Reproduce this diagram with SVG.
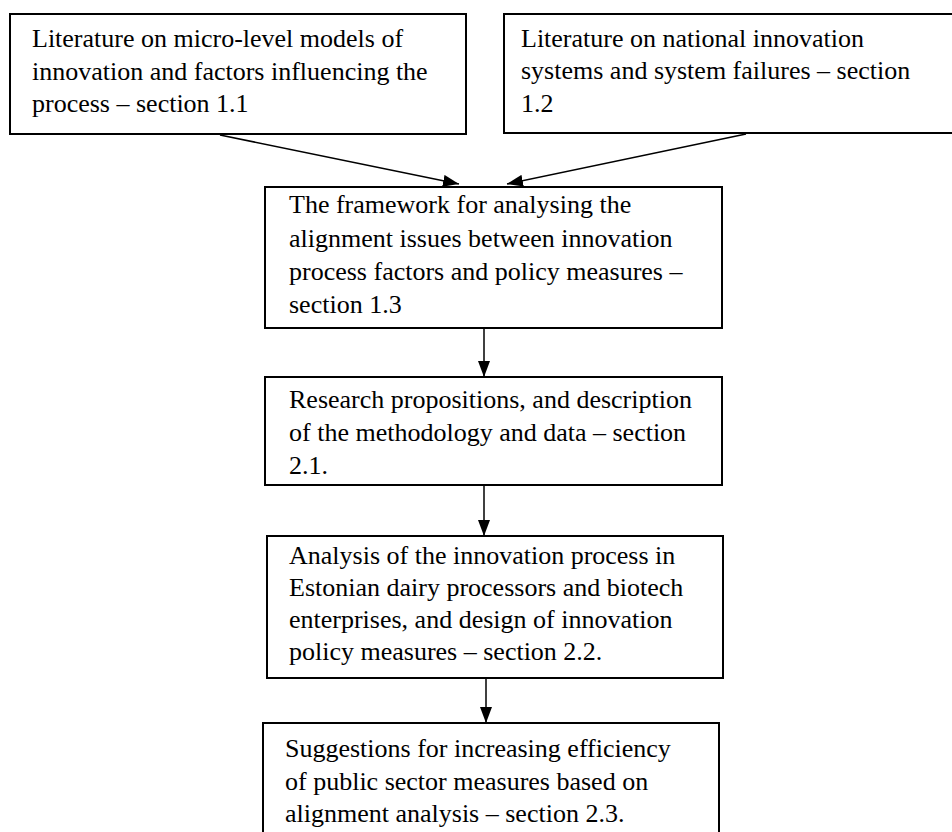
<svg xmlns="http://www.w3.org/2000/svg" width="952" height="832" viewBox="0 0 952 832">
  <style>
    .box { fill: #ffffff; stroke: #000000; stroke-width: 2; }
    .label { font-family: "Times New Roman", "Liberation Serif", Tinos, "DejaVu Serif", serif; font-size: 26px; fill: #000000; }
    .conn { stroke: #000000; stroke-width: 1.5; fill: none; }
  </style>
  <defs>
    <marker id="arrow" viewBox="0 0 16 12" refX="16" refY="6" markerWidth="16" markerHeight="12" markerUnits="userSpaceOnUse" orient="auto">
      <path d="M0,0 L16,6 L0,12 z" fill="#000000"/>
    </marker>
  </defs>
  <rect width="952" height="832" fill="#ffffff"/>

  <g id="connectors">
    <line class="conn" x1="220" y1="135" x2="459" y2="184" marker-end="url(#arrow)"/>
    <line class="conn" x1="746" y1="134" x2="507" y2="184" marker-end="url(#arrow)"/>
    <line class="conn" x1="484" y1="328" x2="484" y2="377" marker-end="url(#arrow)"/>
    <line class="conn" x1="484" y1="486" x2="484" y2="536" marker-end="url(#arrow)"/>
    <line class="conn" x1="486" y1="679" x2="486" y2="723" marker-end="url(#arrow)"/>
  </g>

  <g id="node-micro">
    <rect class="box" x="10" y="14" width="456" height="120"/>
    <text class="label" x="32" y="47">Literature on micro-level models of</text>
    <text class="label" x="32" y="79.5">innovation and factors influencing the</text>
    <text class="label" x="32" y="112">process – section 1.1</text>
  </g>

  <g id="node-nis">
    <rect class="box" x="504" y="14" width="456" height="119"/>
    <text class="label" x="521" y="47">Literature on national innovation</text>
    <text class="label" x="521" y="79">systems and system failures – section</text>
    <text class="label" x="521" y="112">1.2</text>
  </g>

  <g id="node-framework">
    <rect class="box" x="265" y="187" width="457" height="141"/>
    <text class="label" x="289" y="213">The framework for analysing the</text>
    <text class="label" x="289" y="246.5">alignment issues between innovation</text>
    <text class="label" x="289" y="280">process factors and policy measures –</text>
    <text class="label" x="289" y="313">section 1.3</text>
  </g>

  <g id="node-research">
    <rect class="box" x="265" y="377" width="457" height="108"/>
    <text class="label" x="289" y="408">Research propositions, and description</text>
    <text class="label" x="289" y="441">of the methodology and data – section</text>
    <text class="label" x="289" y="474">2.1.</text>
  </g>

  <g id="node-analysis">
    <rect class="box" x="267" y="536" width="456" height="142"/>
    <text class="label" x="289" y="564">Analysis of the innovation process in</text>
    <text class="label" x="289" y="596">Estonian dairy processors and biotech</text>
    <text class="label" x="289" y="628">enterprises, and design of innovation</text>
    <text class="label" x="289" y="660">policy measures – section 2.2.</text>
  </g>

  <g id="node-suggestions">
    <rect class="box" x="263" y="723" width="456" height="120"/>
    <text class="label" x="285" y="757">Suggestions for increasing efficiency</text>
    <text class="label" x="285" y="790">of public sector measures based on</text>
    <text class="label" x="285" y="822">alignment analysis – section 2.3.</text>
  </g>
</svg>
